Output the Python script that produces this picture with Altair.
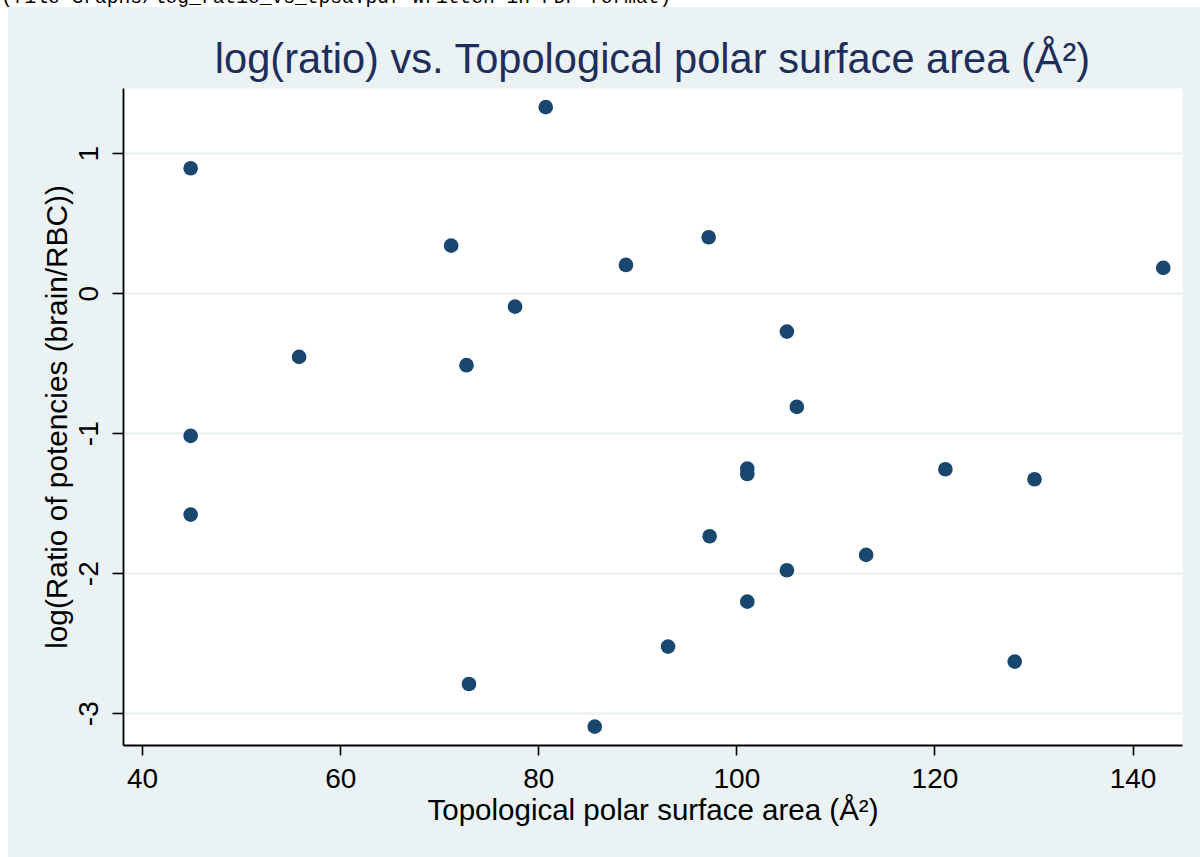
import altair as alt
import pandas as pd

# ---- data ----
tpsa = [44.9, 80.75, 71.2, 97.2, 88.85, 143.1, 77.65, 105.1, 55.85, 72.75,
        106.1, 44.9, 101.1, 101.1, 121.1, 130.1, 44.9, 97.3, 113.1, 105.1,
        101.1, 93.1, 128.1, 73.0, 85.7]
log_ratio = [0.893, 1.329, 0.34, 0.40, 0.202, 0.181, -0.096, -0.274, -0.455, -0.514,
             -0.812, -1.019, -1.253, -1.291, -1.257, -1.329, -1.581, -1.736, -1.869, -1.979,
             -2.203, -2.524, -2.631, -2.791, -3.096]

x_ticks = [40, 60, 80, 100, 120, 140]
y_ticks = [-3, -2, -1, 0, 1]

title_text = "log(ratio) vs. Topological polar surface area (Å²)"
x_title = "Topological polar surface area (Å²)"
y_title = "log(Ratio of potencies (brain/RBC))"
log_line = "(file Graphs/log_ratio_vs_tpsa.pdf written in PDF format)"

# ---- layout ----
W, H = 1059, 657
PAD_L, PAD_T = 123, 88
TOTAL_W, TOTAL_H = 1200, 857
BG = "#EAF2F3"
FONT = "Liberation Sans"

df = pd.DataFrame({"tpsa": tpsa, "log_ratio": log_ratio})
one = pd.DataFrame({"k": [0]})

strip_top = alt.Chart(one).mark_rect(color="white").encode(
    x=alt.value(-PAD_L), x2=alt.value(TOTAL_W - PAD_L),
    y=alt.value(-PAD_T), y2=alt.value(7 - PAD_T),
)
strip_left = alt.Chart(one).mark_rect(color="white").encode(
    x=alt.value(-PAD_L), x2=alt.value(8 - PAD_L),
    y=alt.value(-PAD_T), y2=alt.value(TOTAL_H - PAD_T),
)
log_text = alt.Chart(one).mark_text(
    align="left", baseline="alphabetic", font="Liberation Mono",
    fontSize=19.6, color="black",
).encode(x=alt.value(1 - PAD_L), y=alt.value(3 - PAD_T), text=alt.value(log_line))

title_mark = alt.Chart(one).mark_text(
    align="center", baseline="alphabetic", font=FONT, fontSize=41.6, color="#1E2E5C",
).encode(x=alt.value(W / 2), y=alt.value(73 - PAD_T), text=alt.value(title_text))

points = alt.Chart(df).mark_circle(size=215, color="#1A476F", opacity=1).encode(
    x=alt.X(
        "tpsa:Q",
        scale=alt.Scale(domain=[38.07, 144.99], nice=False, zero=False),
        axis=alt.Axis(
            values=x_ticks, title=x_title, grid=False,
            labelExpr="toString(datum.value)",
            labelFontSize=28, labelPadding=10, labelBaseline="top",
            tickSize=10, titleFontSize=29.5, titleBaseline="alphabetic",
            titleX=W / 2, titleY=74,
        ),
    ),
    y=alt.Y(
        "log_ratio:Q",
        scale=alt.Scale(domain=[-3.227, 1.466], nice=False, zero=False),
        axis=alt.Axis(
            values=y_ticks, title=y_title, grid=True,
            gridColor=BG, gridWidth=2.5,
            labelExpr="toString(datum.value)",
            labelFontSize=28, labelAngle=270, labelAlign="center",
            labelBaseline="alphabetic", labelPadding=15,
            tickSize=11, titleFontSize=29.8, titleAngle=270,
            titleBaseline="alphabetic", titleX=-57, titleY=H / 2,
        ),
    ),
)

chart = alt.layer(strip_top, strip_left, log_text, title_mark, points).properties(
    width=W, height=H,
    padding={"left": PAD_L, "top": PAD_T, "right": TOTAL_W - PAD_L - W, "bottom": TOTAL_H - PAD_T - H},
    autosize=alt.AutoSizeParams(type="none"),
    background=BG,
).configure_view(
    fill="white", stroke="transparent",
).configure_axis(
    labelFont=FONT, titleFont=FONT, labelColor="black", titleColor="black",
    titleFontWeight="normal", domainColor="black", domainWidth=1.8,
    tickColor="black", tickWidth=1.6, labelFlush=False, labelOverlap=False,
)

chart.save("out.html", embed_options={"renderer": "svg", "actions": False})
